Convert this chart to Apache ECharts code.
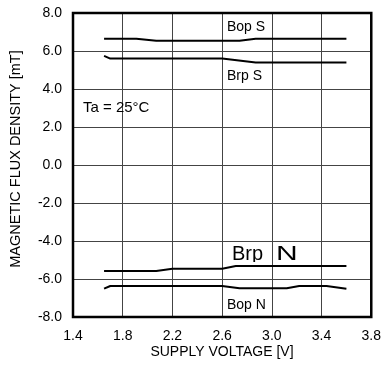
<!DOCTYPE html>
<html><head><meta charset="utf-8">
<script src="https://cdn.jsdelivr.net/npm/echarts@6/dist/echarts.min.js"></script>
<style>html,body{margin:0;padding:0;background:#fff}#c{width:384px;height:372px}</style>
</head><body><div id="c"></div>
<script>
const xTicks = [1.4, 1.8, 2.2, 2.6, 3.0, 3.4, 3.8];
const bopS_x = [1.65, 1.91, 2.07, 2.74, 2.87, 3.6];
const bopS_y = [6.65, 6.65, 6.54, 6.54, 6.65, 6.65];
const brpS_x = [1.65, 1.70, 2.6, 2.87, 3.6];
const brpS_y = [5.74, 5.6, 5.6, 5.4, 5.4];
const brpN_x = [1.65, 2.07, 2.2, 2.6, 2.71, 3.6];
const brpN_y = [-5.58, -5.58, -5.46, -5.46, -5.32, -5.32];
const bopN_x = [1.65, 1.70, 2.6, 2.74, 3.12, 3.22, 3.44, 3.6];
const bopN_y = [-6.51, -6.37, -6.37, -6.49, -6.49, -6.37, -6.37, -6.51];

const FONT = '"Liberation Sans", Arial, sans-serif';
const pair = (xs, ys) => xs.map((x, i) => [x, ys[i]]);
const lineSeries = (name, xs, ys) => ({
  name, type: 'line', data: pair(xs, ys), showSymbol: false, smooth: false,
  lineStyle: { color: '#000', width: 2 }, z: 5
});

const chart = echarts.init(document.getElementById('c'), null, { renderer: 'canvas' });
chart.setOption({
  animation: false,
  backgroundColor: '#fff',
  grid: { left: 73, top: 13, width: 300, height: 304, show: true, borderColor: '#000', borderWidth: 2.5, backgroundColor: 'transparent', z: 6 },
  xAxis: {
    type: 'value', min: 1.4, max: 3.8,
    axisLine: { show: false },
    axisTick: { show: false, customValues: xTicks },
    axisLabel: { customValues: xTicks, formatter: v => v.toFixed(1), color: '#000', fontSize: 14, fontFamily: FONT, margin: 12 },
    splitLine: { show: true, lineStyle: { color: '#444', width: 1 } }
  },
  yAxis: {
    type: 'value', min: -8, max: 8, interval: 2,
    axisLine: { show: false },
    axisTick: { show: false },
    axisLabel: { formatter: v => v.toFixed(1), color: '#000', fontSize: 14, fontFamily: FONT, margin: 11 },
    splitLine: { show: true, lineStyle: { color: '#444', width: 1 } }
  },
  series: [
    lineSeries('Bop S', bopS_x, bopS_y),
    lineSeries('Brp S', brpS_x, brpS_y),
    lineSeries('Brp N', brpN_x, brpN_y),
    lineSeries('Bop N', bopN_x, bopN_y)
  ],
  graphic: [
    { type: 'text', left: 227, top: 20, style: { text: 'Bop S', font: '14px ' + FONT, fill: '#000' }, z: 10 },
    { type: 'text', left: 227, top: 69, style: { text: 'Brp S', font: '14px ' + FONT, fill: '#000' }, z: 10 },
    { type: 'text', left: 83, top: 100, style: { text: 'Ta = 25°C', font: '15px ' + FONT, fill: '#000' }, z: 10 },
    { type: 'text', left: 232, top: 244, style: { text: 'Brp', font: '20px ' + FONT, fill: '#000' }, z: 1 },
    { type: 'text', left: 276, top: 244, scaleX: 1.5, style: { text: 'N', font: '20px ' + FONT, fill: '#000' }, z: 1 },
    { type: 'rect', shape: { x: 250, y: 262, width: 21, height: 6 }, style: { fill: '#fff' }, z: 2 },
    { type: 'text', left: 227, top: 298, style: { text: 'Bop N', font: '14px ' + FONT, fill: '#000' }, z: 10 },
    { type: 'text', x: 222, y: 352, style: { text: 'SUPPLY VOLTAGE [V]', font: '14px ' + FONT, fill: '#000', align: 'center', verticalAlign: 'middle' } },
    { type: 'text', x: 16, y: 159, rotation: Math.PI / 2, style: { text: 'MAGNETIC FLUX DENSITY [mT]', font: '14.5px ' + FONT, fill: '#000', align: 'center', verticalAlign: 'middle' } }
  ]
});
</script></body></html>
